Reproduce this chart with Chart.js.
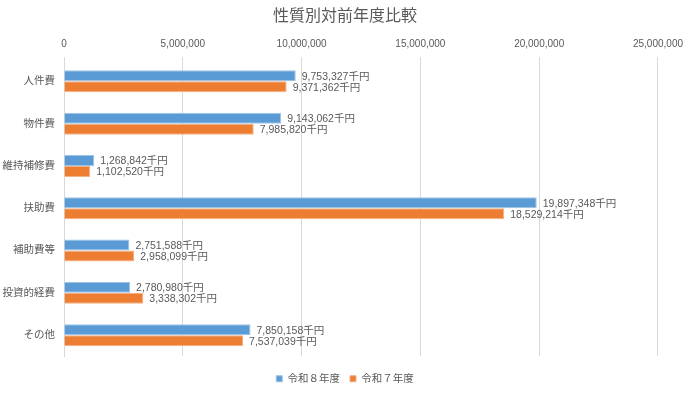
<!DOCTYPE html>
<html>
<head>
<meta charset="utf-8">
<script src="https://cdn.jsdelivr.net/npm/chart.js@4"></script>
<style>
  html, body { margin: 0; padding: 0; background: #fff; }
  #wrap { width: 690px; height: 394px; }
</style>
</head>
<body>
<div id="wrap"><canvas id="chart" width="690" height="394"></canvas></div>
<script>
const categories = ["人件費", "物件費", "維持補修費", "扶助費", "補助費等", "投資的経費", "その他"];
const seriesNames = ["令和８年度", "令和７年度"];
const valuesR8 = [9753327, 9143062, 1268842, 19897348, 2751588, 2780980, 7850158];
const valuesR7 = [9371362, 7985820, 1102520, 18529214, 2958099, 3338302, 7537039];
const xTicks = [0, 5000000, 10000000, 15000000, 20000000, 25000000];

const FONT = "'Liberation Sans', 'Noto Sans CJK JP', sans-serif";
const GREY = "#595959";

// draw "n,nnn,nnn千円" just past the end of every bar
const valueLabels = {
    id: "valueLabels",
    afterDatasetsDraw(chart) {
        const ctx = chart.ctx;
        ctx.save();
        ctx.font = "10.5px " + FONT;
        ctx.fillStyle = GREY;
        ctx.textAlign = "left";
        ctx.textBaseline = "middle";
        chart.data.datasets.forEach((ds, i) => {
            chart.getDatasetMeta(i).data.forEach((bar, j) => {
                const text = ds.data[j].toLocaleString("en-US") + "千円";
                ctx.fillText(text, bar.x + 6, bar.y + 1);
            });
        });
        ctx.restore();
    },
};

new Chart(document.getElementById("chart"), {
    type: "bar",
    data: {
        labels: categories,
        datasets: [
            {
                label: seriesNames[0],
                data: valuesR8,
                backgroundColor: "#5B9BD5",
                borderColor: "#9DC3E6",
                borderWidth: 1,
            },
            {
                label: seriesNames[1],
                data: valuesR7,
                backgroundColor: "#ED7D31",
                borderColor: "#F4B183",
                borderWidth: 1,
            },
        ],
    },
    options: {
        indexAxis: "y",
        responsive: false,
        animation: false,
        categoryPercentage: 0.52,
        barPercentage: 1,
        layout: { padding: 0 },
        scales: {
            x: {
                position: "top",
                min: 0,
                max: 25000000,
                afterBuildTicks: (scale) => {
                    scale.ticks = xTicks.map((v) => ({ value: v }));
                },
                afterFit: (scale) => {
                    scale.height = 30;
                },
                grid: { color: "#D9D9D9", tickLength: 3, drawTicks: true },
                border: { display: false },
                ticks: {
                    color: GREY,
                    font: { family: FONT, size: 10 },
                    padding: 7,
                    maxRotation: 0,
                    callback: (v) => v.toLocaleString("en-US"),
                },
            },
            y: {
                afterFit: (scale) => {
                    scale.width = 64;
                },
                grid: { display: false, drawTicks: false },
                border: { color: "#D9D9D9" },
                ticks: {
                    color: GREY,
                    font: { family: FONT, size: 10.5 },
                    padding: 9,
                },
            },
            // empty right-hand gutter so title and legend stay centred on the canvas
            gutter: {
                type: "linear",
                axis: "y",
                position: "right",
                grid: { display: false },
                border: { display: false },
                ticks: { display: false },
                afterFit: (scale) => {
                    scale.width = 32;
                },
            },
        },
        plugins: {
            title: {
                display: true,
                text: "性質別対前年度比較",
                color: GREY,
                font: { family: FONT, size: 16, weight: "normal" },
                padding: { top: 7, bottom: 4 },
            },
            legend: {
                position: "bottom",
                title: {
                    display: true,
                    text: " ",
                    font: { size: 1 },
                    padding: { top: 6, bottom: 0 },
                },
                labels: {
                    color: GREY,
                    font: { family: FONT, size: 10.5 },
                    boxWidth: 6,
                    boxHeight: 6,
                    padding: 10,
                },
            },
            tooltip: { enabled: false },
        },
    },
    plugins: [valueLabels],
});
</script>
</body>
</html>
